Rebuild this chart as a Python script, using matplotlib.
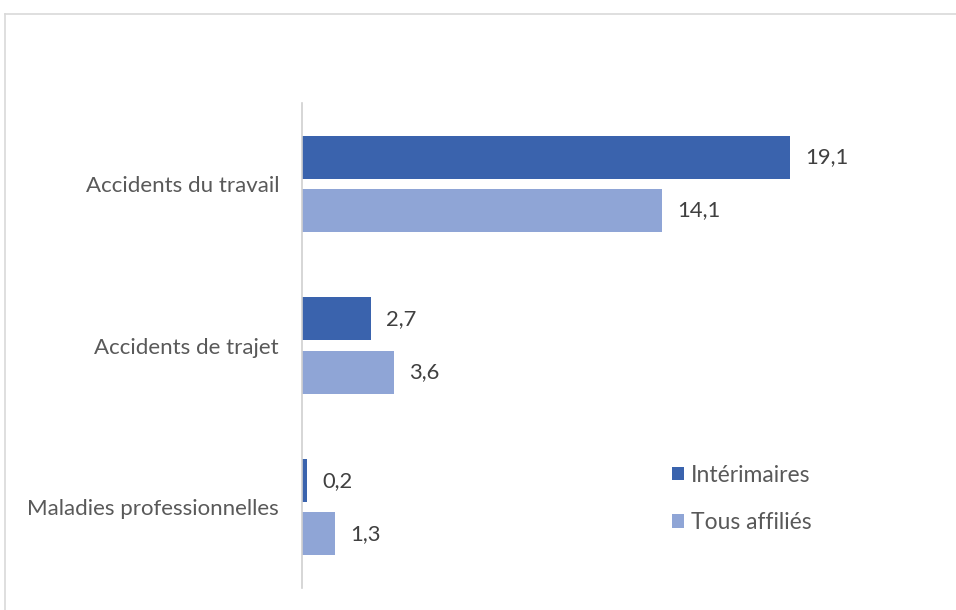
import matplotlib.pyplot as plt
import numpy as np
from matplotlib.lines import Line2D

# Donnees
categories = ['Accidents du travail', 'Accidents de trajet', 'Maladies professionnelles']
interimaires = [19.1, 2.7, 0.2]
tous_affilies = [14.1, 3.6, 1.3]
series_names = ['Intérimaires', 'Tous affiliés']

c_dark = '#3A63AD'
c_light = '#8FA5D6'

plt.rcParams['font.family'] = ['Lato', 'DejaVu Sans']

fig = plt.figure(figsize=(9.56, 6.10), dpi=100)
ax = fig.add_axes([302 / 956, 1 - 588 / 610, 600 / 956, 485 / 610])

y = np.arange(len(categories))
h = 0.266
off = 0.164
b1 = ax.barh(y - off, interimaires, height=h, color=c_dark, label=series_names[0])
b2 = ax.barh(y + off, tous_affilies, height=h, color=c_light, label=series_names[1])

for bars, vals in [(b1, interimaires), (b2, tous_affilies)]:
    for bar, v in zip(bars, vals):
        ax.text(v + 0.6, bar.get_y() + bar.get_height() / 2, f'{v:.1f}'.replace('.', ','),
                va='center', ha='left', fontsize=15.8, color='#404040')

ax.set_xlim(0, 23.5)
ax.set_ylim(2.5, -0.5)
ax.set_yticks(y)
ax.set_yticklabels(categories, fontsize=16, color='#595959')
ax.tick_params(axis='y', length=0, pad=16.5)
ax.set_xticks([])
for s in ['top', 'right', 'bottom']:
    ax.spines[s].set_visible(False)
ax.spines['left'].set_color('#D0D0D0')
ax.spines['left'].set_linewidth(1.2)

ax.legend(frameon=False, loc='upper left', bbox_to_anchor=(651 / 956, 1 - 444 / 610),
          bbox_transform=fig.transFigure, fontsize=16.5, labelcolor='#595959',
          handlelength=0.55, handleheight=0.55, handletextpad=0.3, labelspacing=1.15)

# cadre du graphique
fig.add_artist(Line2D([5 / 956, 1], [1 - 13.5 / 610, 1 - 13.5 / 610], color='#D9D9D9', lw=1.2))
fig.add_artist(Line2D([5 / 956, 5 / 956], [0, 1 - 13.5 / 610], color='#D9D9D9', lw=1.2))

plt.savefig('out.png', dpi=100)
